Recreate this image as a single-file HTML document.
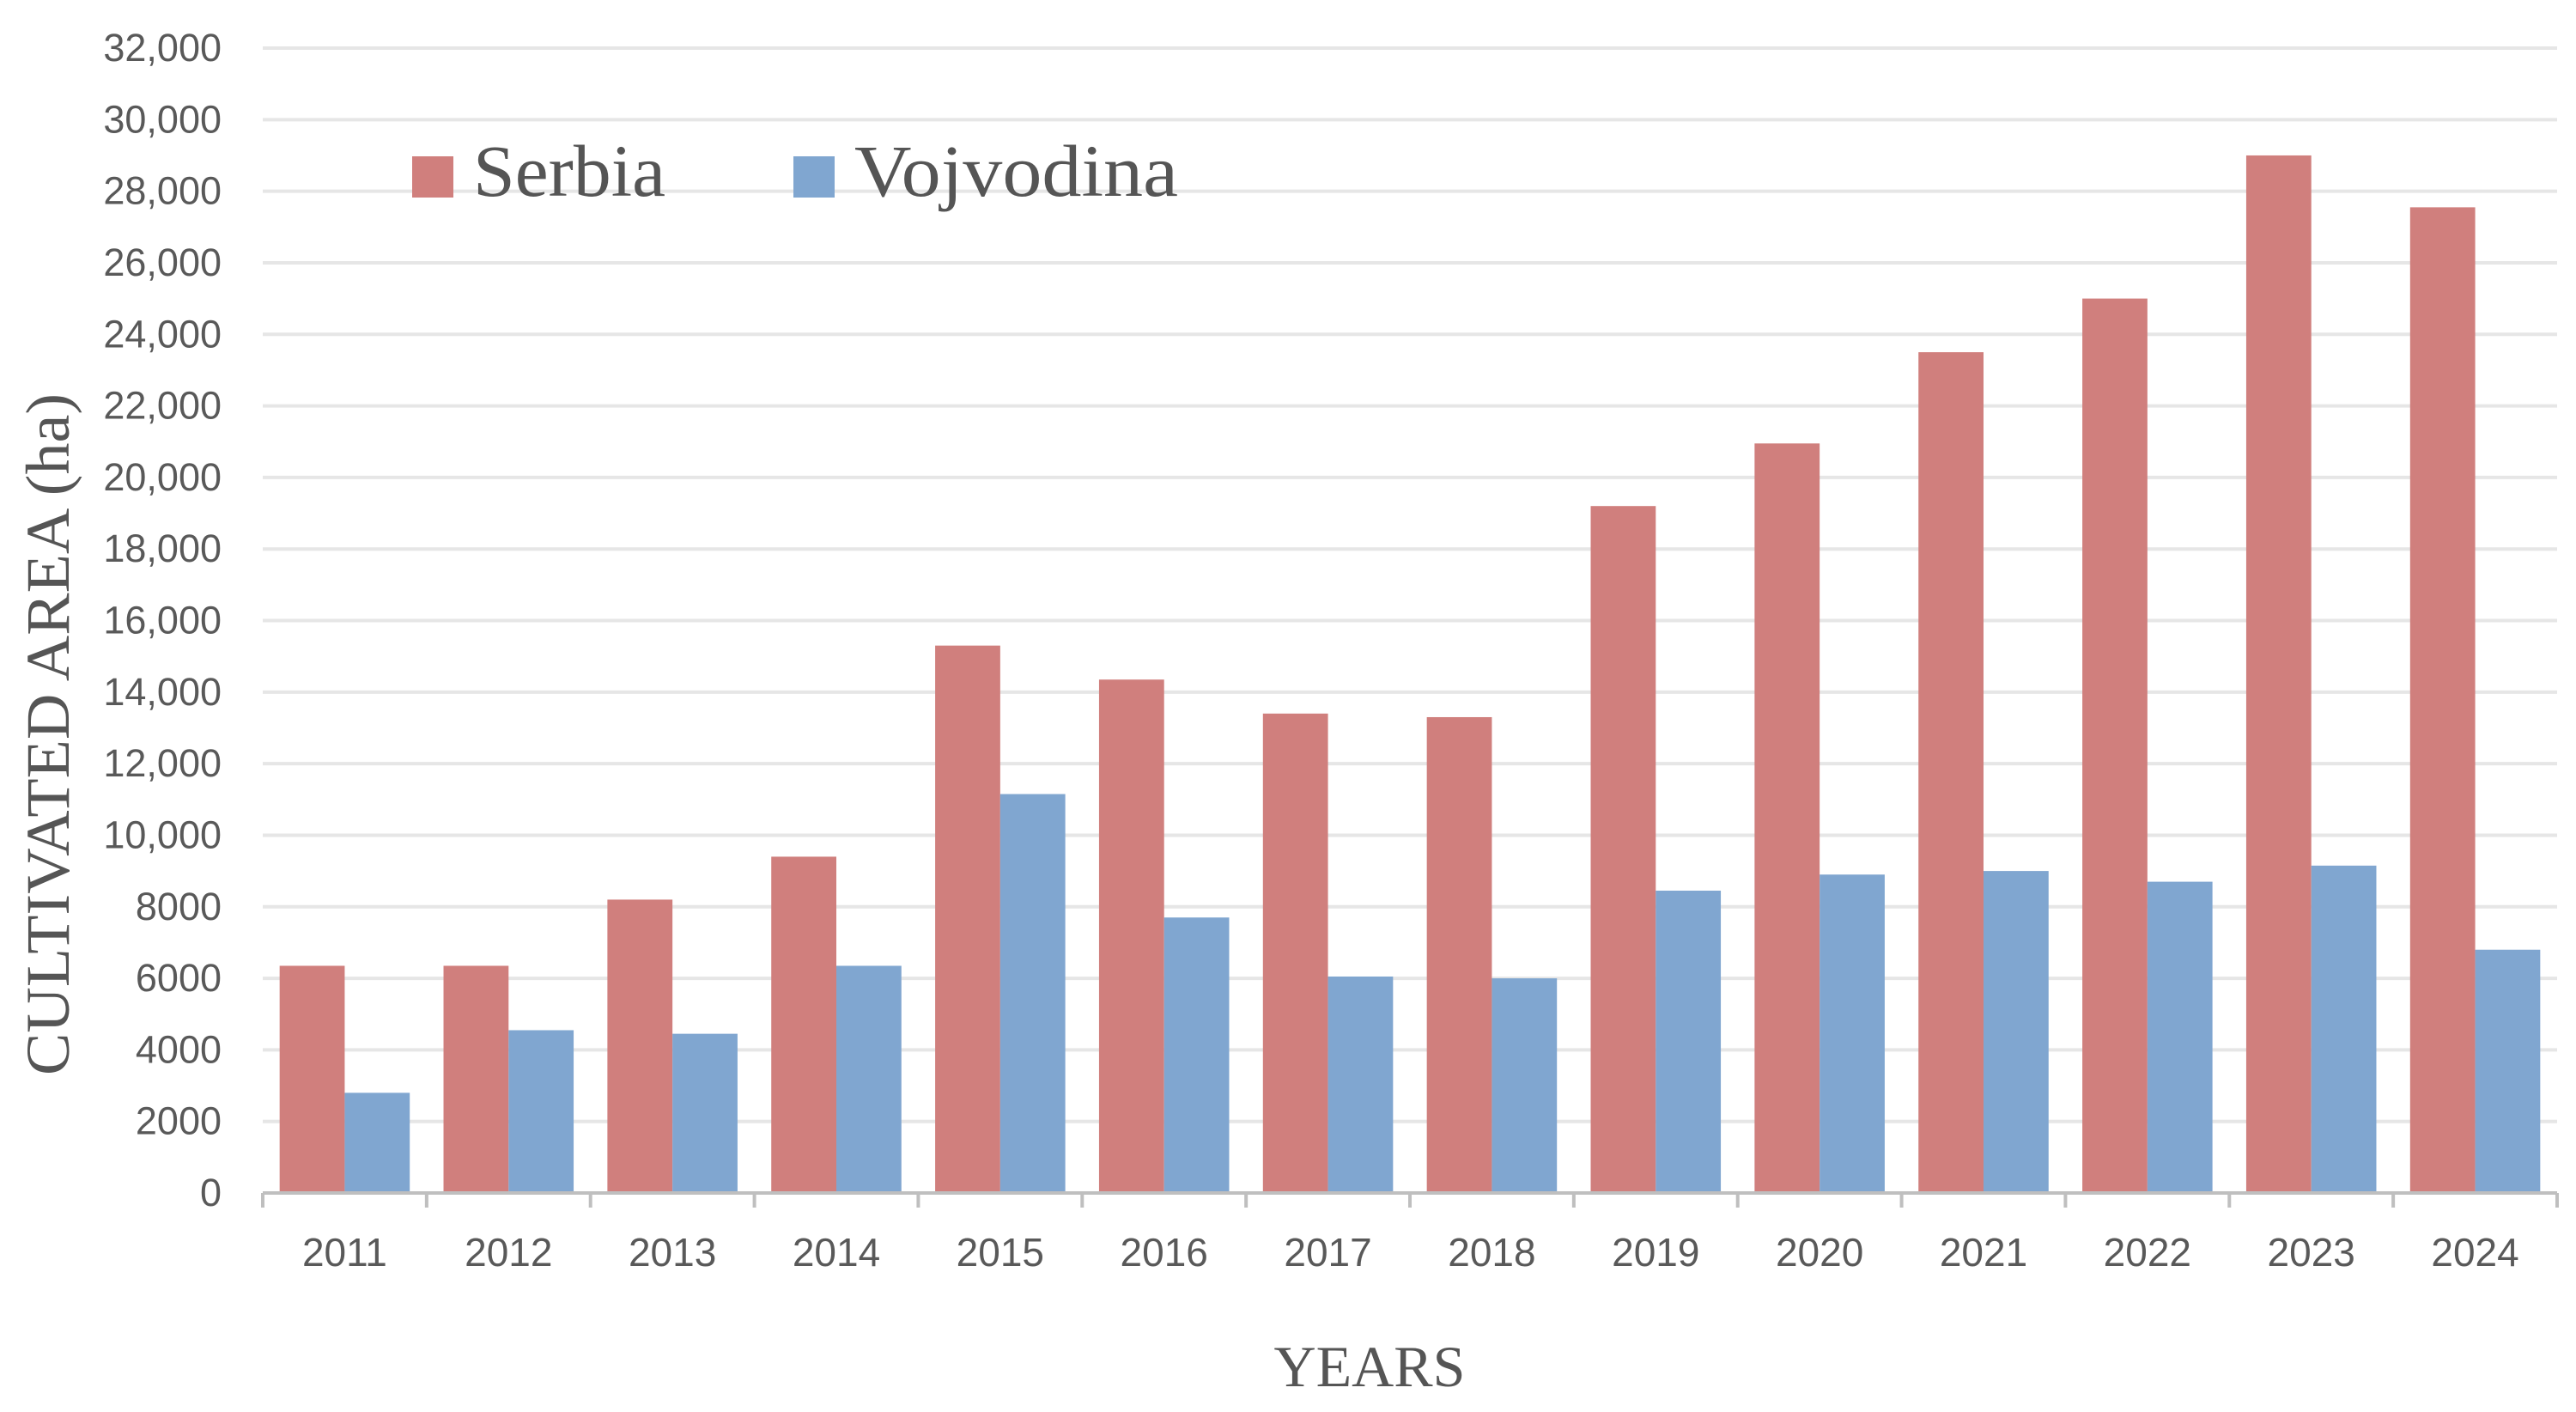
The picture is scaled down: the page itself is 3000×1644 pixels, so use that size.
<!DOCTYPE html>
<html><head><meta charset="utf-8"><style>
html,body{margin:0;padding:0;background:#fff;width:3000px;height:1644px;overflow:hidden}
svg text{font-family:"Liberation Sans",sans-serif}
</style></head><body>
<svg id="chart" width="3000" height="1644" viewBox="0 0 3000 1644" xmlns="http://www.w3.org/2000/svg">
<g id="grid"></g>
<g id="yticks"></g>
<g id="bars"></g>
<g id="xaxis"></g>
<g>
  <rect x="480" y="182" width="48" height="48" fill="#d07f7d"/>
  <text x="551" y="228" font-size="86" fill="#555" textLength="224" lengthAdjust="spacingAndGlyphs" style="font-family:'Liberation Serif',serif">Serbia</text>
  <rect x="924" y="182" width="48" height="48" fill="#80a6d0"/>
  <text x="995" y="228" font-size="86" fill="#555" textLength="377" lengthAdjust="spacingAndGlyphs" style="font-family:'Liberation Serif',serif">Vojvodina</text>
</g>
<text transform="translate(80,855) rotate(-90)" text-anchor="middle" font-size="72" fill="#555" textLength="794" lengthAdjust="spacingAndGlyphs" style="font-family:'Liberation Serif',serif">CULTIVATED AREA (ha)</text>
<text x="1595" y="1614" text-anchor="middle" font-size="68" fill="#555" style="font-family:'Liberation Serif',serif">YEARS</text>
</svg>
<script>
const categories = ["2011","2012","2013","2014","2015","2016","2017","2018","2019","2020","2021","2022","2023","2024"];
const serbiaValues = [6350,6350,8200,9400,15300,14350,13400,13300,19200,20950,23500,25000,29000,27550];
const vojvodinaValues = [2800,4550,4450,6350,11150,7700,6050,6000,8450,8900,9000,8700,9150,6800];
const yTickValues = [0,2000,4000,6000,8000,10000,12000,14000,16000,18000,20000,22000,24000,26000,28000,30000,32000];
const yTickLabels = ["0","2000","4000","6000","8000","10,000","12,000","14,000","16,000","18,000","20,000","22,000","24,000","26,000","28,000","30,000","32,000"];

const NS="http://www.w3.org/2000/svg";
const L=306,R=2978,T=56,B=1389,YMAX=32000;
const y=v=>B-(v/YMAX)*(B-T);
const band=(R-L)/categories.length;
const x=i=>L+i*band;
function mk(tag,attrs,parent){const e=document.createElementNS(NS,tag);for(const k in attrs)e.setAttribute(k,attrs[k]);parent.appendChild(e);return e;}
const grid=document.getElementById('grid'),yt=document.getElementById('yticks'),bars=document.getElementById('bars'),xa=document.getElementById('xaxis');
yTickValues.forEach((v,i)=>{
  if(v>0){const g=mk('line',{x1:L,x2:R,y1:y(v),y2:y(v),stroke:'#e6e6e6','stroke-width':4},grid);
  
  }
  const t=mk('text',{x:258,y:y(v)+15,'text-anchor':'end','font-size':45,fill:'#595959'},yt);
  t.textContent=yTickLabels[i];
  
  
});
const bw=band*0.397, off=(band-2*bw)/2;
categories.forEach((c,i)=>{
  const r=mk('rect',{x:x(i)+off,y:y(serbiaValues[i]),width:bw,height:B-y(serbiaValues[i]),fill:'#d07f7d'},bars);
  
  
  const b=mk('rect',{x:x(i)+off+bw,y:y(vojvodinaValues[i]),width:bw,height:B-y(vojvodinaValues[i]),fill:'#80a6d0'},bars);
  
  
  const t=mk('text',{x:x(i)+band/2,y:1474,'text-anchor':'middle','font-size':46,fill:'#595959'},xa);
  t.textContent=c;
  
  
});
for(let i=0;i<=categories.length;i++){
  const tk=mk('line',{x1:x(i),x2:x(i),y1:B,y2:B+17,stroke:'#bfbfbf','stroke-width':4},xa);
  
  
}
const ax=mk('line',{x1:L,x2:R,y1:B,y2:B,stroke:'#bfbfbf','stroke-width':4},xa);


</script>
</body></html>
